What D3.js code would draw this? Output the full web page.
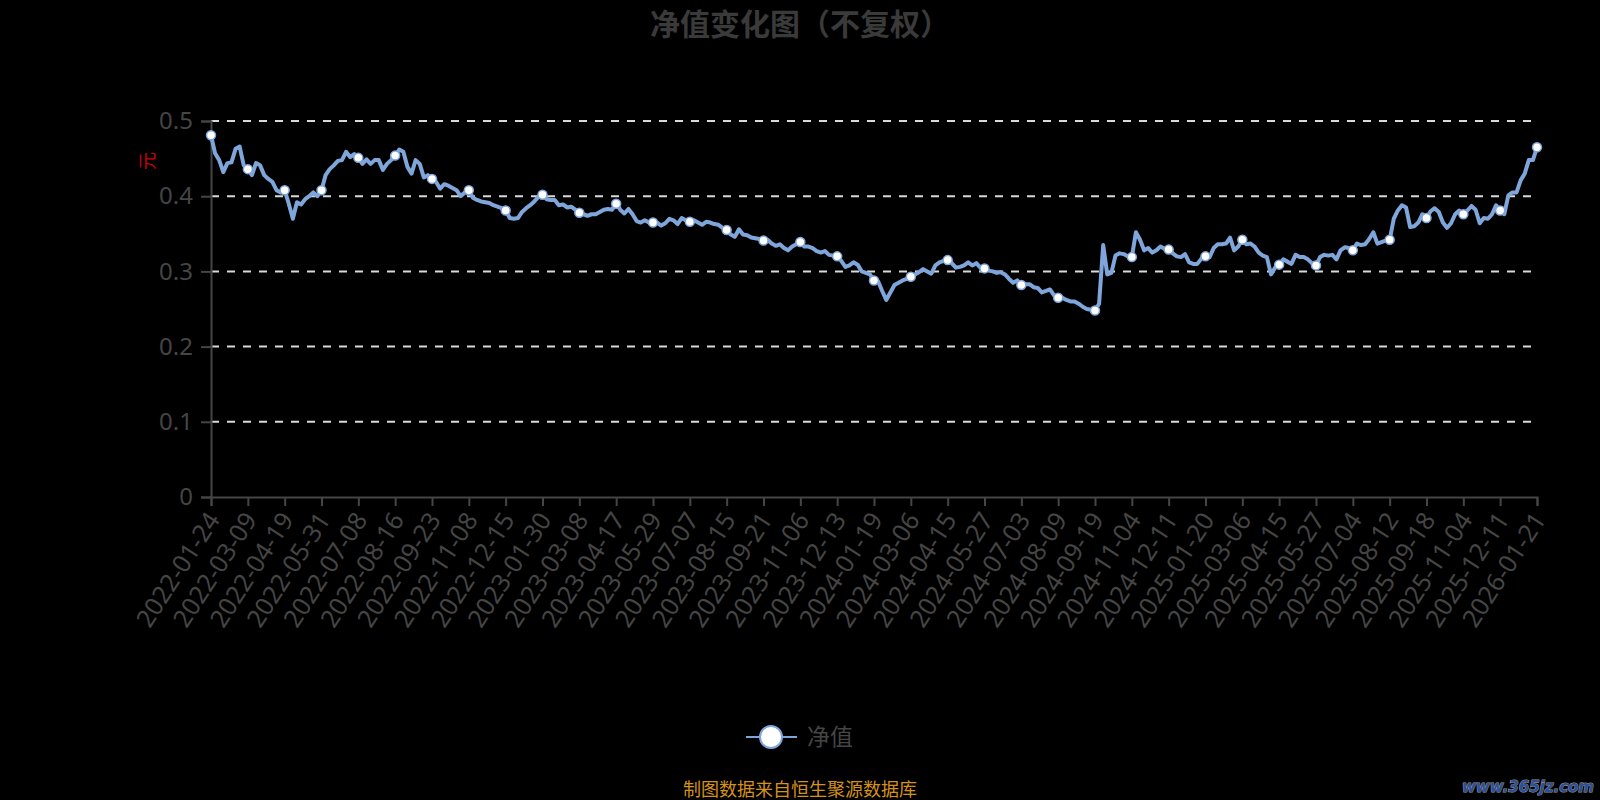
<!DOCTYPE html>
<html><head><meta charset="utf-8">
<script src="https://cdn.jsdelivr.net/npm/d3@7/dist/d3.min.js"></script>
<style>
html,body{margin:0;padding:0;background:#000;}
svg{display:block;}
</style></head>
<body>
<svg id="chart" width="1600" height="800"></svg>
<script>
// ---- data ----
const titleText = "净值变化图（不复权）";
const seriesName = "净值";
const unitName = "元";
const sourceText = "制图数据来自恒生聚源数据库";
const watermarkText = "www.365jz.com";
const xLabels = ["2022-01-24","2022-03-09","2022-04-19","2022-05-31","2022-07-08","2022-08-16","2022-09-23","2022-11-08","2022-12-15","2023-01-30","2023-03-08","2023-04-17","2023-05-29","2023-07-07","2023-08-15","2023-09-21","2023-11-06","2023-12-13","2024-01-19","2024-03-06","2024-04-15","2024-05-27","2024-07-03","2024-08-09","2024-09-19","2024-11-04","2024-12-11","2025-01-20","2025-03-06","2025-04-15","2025-05-27","2025-07-04","2025-08-12","2025-09-18","2025-11-04","2025-12-11","2026-01-21"];
const yTicks = [0, 0.1, 0.2, 0.3, 0.4, 0.5];
const tradingDaysPerLabel = 27;   // trading days between x labels
const tradingDaysPerSample = 3;   // trading days between values below
const navValues = [
0.481,0.457,0.448,0.432,0.444,0.445,0.463,0.466,0.441,
0.436,0.428,0.444,0.441,0.428,0.423,0.419,0.408,0.405,
0.408,0.390,0.370,0.392,0.389,0.396,0.400,0.405,0.400,
0.408,0.428,0.436,0.441,0.447,0.448,0.459,0.452,0.456,
0.451,0.443,0.449,0.443,0.448,0.448,0.435,0.443,0.448,
0.454,0.462,0.459,0.439,0.430,0.448,0.443,0.425,0.428,
0.423,0.419,0.410,0.416,0.414,0.411,0.408,0.400,0.405,
0.408,0.398,0.395,0.393,0.392,0.391,0.388,0.386,0.384,
0.381,0.371,0.370,0.371,0.379,0.384,0.388,0.393,0.399,
0.402,0.396,0.395,0.395,0.388,0.389,0.385,0.386,0.382,
0.378,0.376,0.374,0.376,0.376,0.379,0.382,0.383,0.382,
0.390,0.382,0.377,0.383,0.376,0.367,0.365,0.368,0.365,
0.365,0.365,0.361,0.364,0.370,0.368,0.363,0.371,0.368,
0.366,0.368,0.365,0.362,0.366,0.365,0.363,0.362,0.358,
0.355,0.349,0.346,0.356,0.349,0.348,0.345,0.344,0.343,
0.341,0.342,0.337,0.334,0.336,0.331,0.328,0.333,0.336,
0.339,0.333,0.333,0.331,0.327,0.325,0.327,0.322,0.321,
0.320,0.314,0.306,0.308,0.312,0.309,0.300,0.298,0.296,
0.288,0.287,0.274,0.262,0.272,0.282,0.285,0.288,0.290,
0.293,0.296,0.299,0.303,0.300,0.297,0.308,0.312,0.314,
0.315,0.311,0.305,0.306,0.308,0.312,0.308,0.311,0.305,
0.304,0.301,0.300,0.298,0.299,0.296,0.290,0.285,0.288,
0.282,0.283,0.283,0.279,0.278,0.272,0.274,0.276,0.268,
0.265,0.265,0.262,0.260,0.260,0.257,0.253,0.250,0.249,
0.248,0.257,0.335,0.296,0.298,0.321,0.324,0.323,0.320,
0.319,0.352,0.342,0.328,0.331,0.325,0.328,0.333,0.330,
0.329,0.324,0.320,0.319,0.323,0.312,0.310,0.310,0.317,
0.320,0.319,0.331,0.336,0.336,0.337,0.345,0.328,0.333,
0.342,0.336,0.337,0.333,0.325,0.321,0.319,0.296,0.305,
0.309,0.316,0.313,0.310,0.322,0.319,0.319,0.316,0.311,
0.308,0.319,0.322,0.321,0.322,0.316,0.328,0.332,0.331,
0.328,0.337,0.335,0.336,0.343,0.352,0.337,0.339,0.341,
0.342,0.370,0.381,0.388,0.385,0.359,0.360,0.365,0.376,
0.371,0.380,0.384,0.379,0.365,0.358,0.364,0.376,0.381,
0.376,0.381,0.387,0.382,0.364,0.371,0.370,0.376,0.388,
0.381,0.376,0.401,0.405,0.405,0.421,0.430,0.448,0.448,
0.465
];

// ---- layout ----
const W = 1600, H = 800;
const plot = {left: 211, right: 1537, top: 121, bottom: 497};
const lineColor = "#7ea6da";
const axisColor = "#454545";
const textColor = "#454545";
const fontFam = "'Noto Sans','Noto Sans CJK SC',sans-serif";

const svg = d3.select("#chart");
svg.append("rect").attr("width", W).attr("height", H).attr("fill", "#000");

const lastDay = (navValues.length - 1) * tradingDaysPerSample;
const x = d3.scaleLinear().domain([0, lastDay]).range([plot.left, plot.right]);
const y = d3.scaleLinear().domain([0, d3.max(yTicks)]).range([plot.bottom, plot.top]);

// title
svg.append("text").attr("x", 800).attr("y", 35).attr("text-anchor", "middle")
  .attr("font-family", "'Noto Sans CJK SC',sans-serif").attr("font-weight", "bold")
  .attr("font-size", 30).attr("fill", "#3a3a3a").text(titleText);

// grid lines
svg.append("g").selectAll("line").data(yTicks.filter(d => d > 0)).join("line")
  .attr("x1", plot.left).attr("x2", plot.right)
  .attr("y1", d => y(d)).attr("y2", d => y(d))
  .attr("stroke", "#d9d9d9").attr("stroke-width", 2).attr("stroke-dasharray", "8,8");

// y axis
const yAxis = d3.axisLeft(y).tickValues(yTicks).tickSizeOuter(0).tickSize(10).tickPadding(8)
  .tickFormat(d => d === 0 ? "0" : d3.format(".1f")(d));
const gy = svg.append("g").attr("transform", `translate(${plot.left},0)`).call(yAxis);
gy.select(".domain").attr("stroke", axisColor).attr("stroke-width", 2);
gy.selectAll(".tick line").attr("stroke", axisColor).attr("stroke-width", 2);
gy.selectAll(".tick text").attr("fill", textColor).attr("font-family", fontFam).attr("font-size", 24);

// x axis
const xTickVals = xLabels.map((d, i) => i * tradingDaysPerLabel);
const xAxis = d3.axisBottom(x).tickValues(xTickVals).tickSizeOuter(0).tickSize(9)
  .tickFormat((d, i) => xLabels[i]);
const gx = svg.append("g").attr("transform", `translate(0,${plot.bottom})`).call(xAxis);
gx.select(".domain").attr("stroke", axisColor).attr("stroke-width", 2);
gx.selectAll(".tick line").attr("stroke", axisColor).attr("stroke-width", 2);
gx.selectAll(".tick text").attr("fill", textColor).attr("font-family", fontFam).attr("font-size", 25)
  .attr("text-anchor", "end").attr("dy", "0.35em").attr("y", 0)
  .attr("transform", "translate(2,18) rotate(-57)");

// unit label
svg.append("text").attr("transform", "translate(154,161) rotate(-90)")
  .attr("text-anchor", "middle").attr("font-family", "'Noto Sans CJK SC',sans-serif")
  .attr("font-size", 18).attr("fill", "#d00000").text(unitName);

// line
const line = d3.line().x((d, i) => x(i * tradingDaysPerSample)).y(d => y(d));
svg.append("path").datum(navValues).attr("d", line).attr("fill", "none")
  .attr("stroke", lineColor).attr("stroke-width", 4).attr("stroke-linejoin", "round");

// symbols at label positions
const symbolData = navValues.map((v, i) => ({day: i * tradingDaysPerSample, v}))
  .filter(d => d.day % tradingDaysPerLabel === 0);
svg.append("g").selectAll("circle").data(symbolData).join("circle")
  .attr("cx", d => x(d.day)).attr("cy", d => y(d.v)).attr("r", 4.5)
  .attr("fill", "#fff").attr("stroke", lineColor).attr("stroke-width", 1.5);

// legend
const lg = svg.append("g");
lg.append("line").attr("x1", 746).attr("x2", 797).attr("y1", 737).attr("y2", 737)
  .attr("stroke", lineColor).attr("stroke-width", 2);
lg.append("circle").attr("cx", 771).attr("cy", 737).attr("r", 11)
  .attr("fill", "#fff").attr("stroke", lineColor).attr("stroke-width", 2);
lg.append("text").attr("x", 807).attr("y", 745).attr("font-family", "'Noto Sans CJK SC',sans-serif")
  .attr("font-size", 23).attr("fill", textColor).text(seriesName);

// source
svg.append("text").attr("x", 800).attr("y", 796).attr("text-anchor", "middle")
  .attr("font-family", "'Noto Sans CJK SC',sans-serif").attr("font-size", 18)
  .attr("fill", "#d4921a").text(sourceText);

// watermark
svg.append("text").attr("x", 1594).attr("y", 792).attr("text-anchor", "end")
  .attr("font-family", "'DejaVu Sans',sans-serif").attr("font-weight", "bold").attr("font-style", "italic")
  .attr("font-size", 15).attr("fill", "#2d4f96").attr("stroke", "#9a9a9a").attr("stroke-width", 1)
  .attr("paint-order", "stroke").text(watermarkText);
</script>
</body></html>
